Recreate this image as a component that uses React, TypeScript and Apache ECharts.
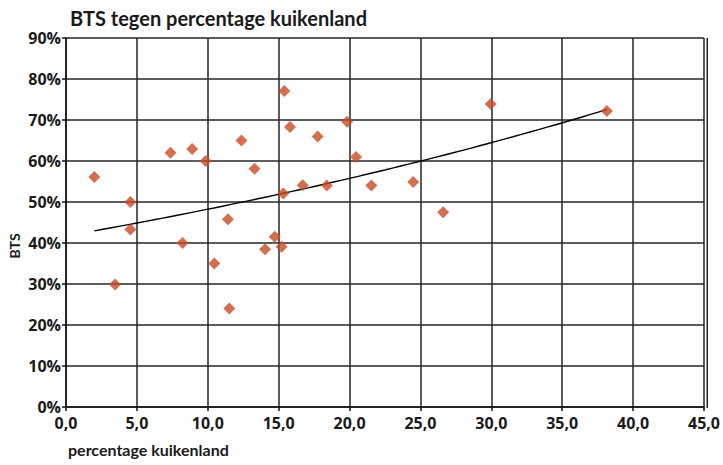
import React, { useEffect, useRef } from "react";
import * as echarts from "echarts";

const title = "BTS tegen percentage kuikenland";
const xName = "percentage kuikenland";
const yName = "BTS";

// percentage kuikenland
const xValues = [
  2.0, 3.46, 4.54, 4.54, 7.37, 8.22, 8.9, 9.85, 10.46, 11.42, 11.52, 12.38, 13.3, 14.04, 14.72,
  15.21, 15.33, 15.4, 15.8, 16.7, 17.75, 18.4, 19.83, 20.46, 21.54, 24.49, 26.6, 29.96, 38.15,
];
// BTS (%)
const yValues = [
  56.1, 29.9, 50.0, 43.3, 62.0, 40.0, 62.9, 60.0, 35.0, 45.8, 24.0, 65.0, 58.1, 38.5, 41.5,
  39.1, 52.1, 77.1, 68.3, 54.1, 66.0, 54.0, 69.6, 61.0, 54.0, 54.9, 47.5, 73.9, 72.2,
];

const FONT = "Lato";
const TICK_FONT = "Open Sans";

// exponential trendline fitted (least squares on ln y) from the data
function expFit(xs: number[], ys: number[]) {
  const n = xs.length;
  let sx = 0, sy = 0, sxx = 0, sxy = 0;
  for (let i = 0; i < n; i++) {
    const ly = Math.log(ys[i]);
    sx += xs[i];
    sy += ly;
    sxx += xs[i] * xs[i];
    sxy += xs[i] * ly;
  }
  const b = (n * sxy - sx * sy) / (n * sxx - sx * sx);
  const a = Math.exp((sy - b * sx) / n);
  return { a, b };
}

export default function App() {
  const ref = useRef<HTMLDivElement>(null);
  useEffect(() => {
    if (!ref.current) return;
    const chart = echarts.init(ref.current, undefined, { renderer: "svg" });
    const { a, b } = expFit(xValues, yValues);
    const xmin = Math.min(...xValues);
    const xmax = Math.max(...xValues);
    const trend: number[][] = [];
    const steps = 60;
    for (let i = 0; i <= steps; i++) {
      const x = xmin + ((xmax - xmin) * i) / steps;
      trend.push([x, a * Math.exp(b * x)]);
    }
    const scatterData = xValues.map((x, i) => [x, yValues[i]]);
    const lineColor = "#262626";
    chart.setOption({
      animation: false,
      backgroundColor: "#ffffff",
      title: {
        text: title,
        left: 65,
        top: 3,
        textStyle: { fontFamily: FONT, fontWeight: "bold", fontSize: 20, color: "#1a1a1a" },
      },
      grid: { left: 66, right: 16, top: 38, bottom: 58, containLabel: false },
      xAxis: {
        type: "value",
        min: 0,
        max: 45,
        interval: 5,
        axisLine: { show: true, onZero: false, lineStyle: { color: "#111", width: 1.5 } },
        axisTick: { show: true, length: 4, lineStyle: { color: "#111", width: 1.5 } },
        splitLine: { show: true, lineStyle: { color: lineColor, width: 1.5 } },
        axisLabel: {
          fontFamily: TICK_FONT,
          fontWeight: "bold",
          fontSize: 16,
          color: "#1a1a1a",
          margin: 8,
          formatter: (v: number) => v.toFixed(1).replace(".", ","),
        },
      },
      yAxis: {
        type: "value",
        min: 0,
        max: 90,
        interval: 10,
        axisLine: { show: true, lineStyle: { color: "#111", width: 1.5 } },
        axisTick: { show: true, length: 4, lineStyle: { color: "#111", width: 1.5 } },
        splitLine: { show: true, lineStyle: { color: lineColor, width: 1.5 } },
        axisLabel: {
          fontFamily: TICK_FONT,
          fontWeight: "bold",
          fontSize: 16,
          color: "#1a1a1a",
          margin: 5,
          formatter: "{value}%",
        },
      },
      graphic: [
        {
          type: "text",
          left: 68,
          top: 441,
          style: {
            text: xName,
            fontFamily: FONT,
            fontWeight: "bold",
            fontSize: 16,
            fill: "#1a1a1a",
          },
        },
        {
          type: "text",
          x: 14,
          y: 246,
          rotation: Math.PI / 2,
          style: {
            text: yName,
            fontFamily: FONT,
            fontWeight: "bold",
            fontSize: 14,
            fill: "#1a1a1a",
            align: "center",
            verticalAlign: "middle",
          },
        },
        {
          type: "rect",
          right: 15,
          top: 38,
          shape: { width: 1.5, height: 370 },
          style: { fill: lineColor },
          silent: true,
        },
      ],
      series: [
        {
          type: "scatter",
          data: scatterData,
          symbol: "diamond",
          symbolSize: 12,
          itemStyle: { color: "#C84B26" },
          z: 3,
        },
        {
          type: "line",
          data: trend,
          showSymbol: false,
          smooth: false,
          lineStyle: { color: "#000", width: 1.4 },
          z: 2,
        },
      ],
    });
    return () => chart.dispose();
  }, []);
  return (
    <div
      ref={ref}
      style={{ position: "fixed", left: 0, top: 0, width: 723, height: 465 }}
    />
  );
}
